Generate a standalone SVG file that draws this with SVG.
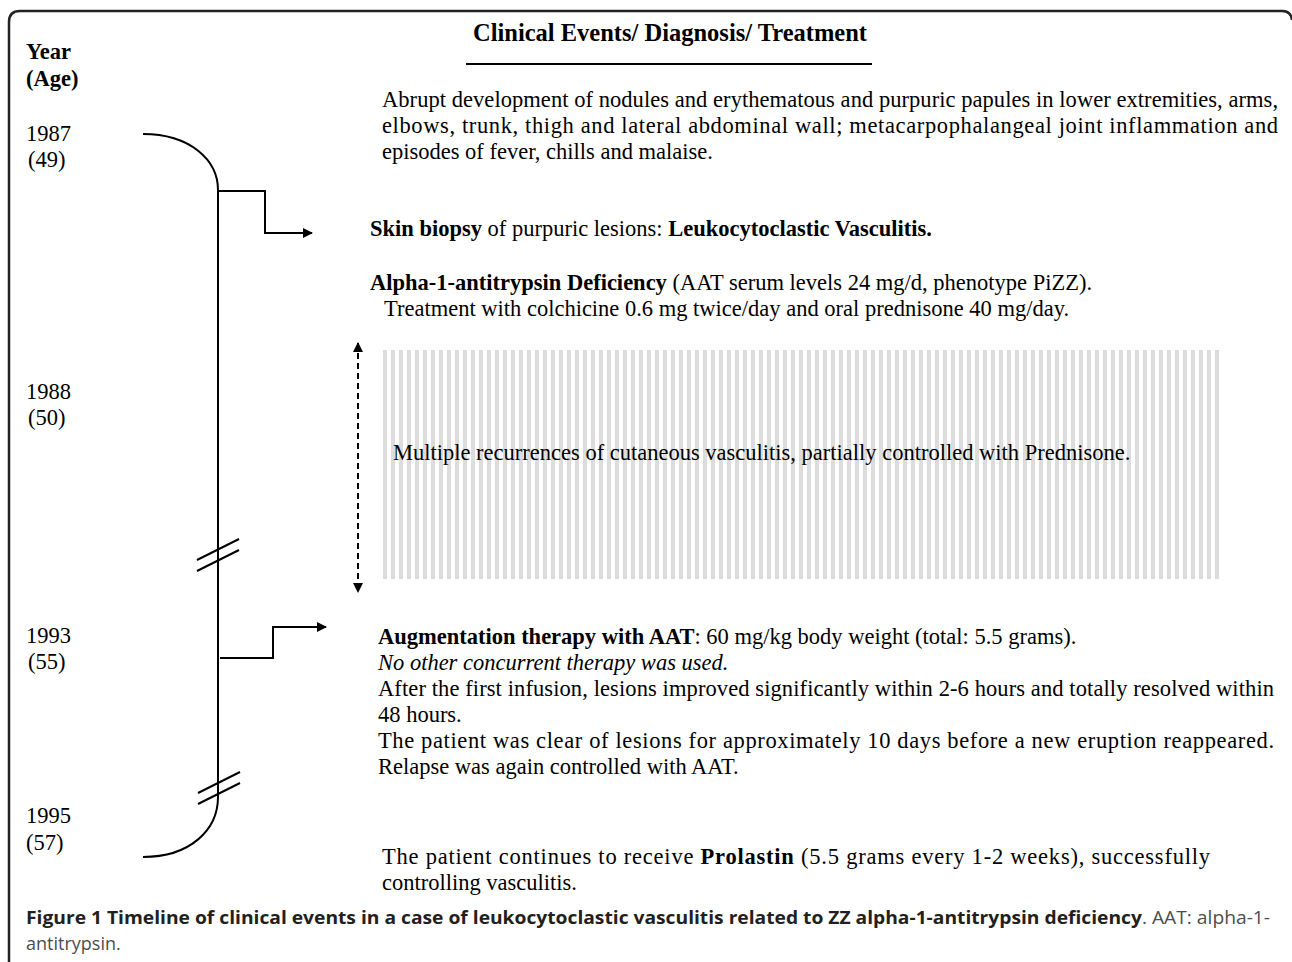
<svg xmlns="http://www.w3.org/2000/svg" width="1292" height="962" viewBox="0 0 1292 962">
<style>
.t{font-family:"Liberation Serif","Times New Roman",serif;font-size:22.5px;fill:#000}
.b{font-weight:bold}
.i{font-style:italic}
.title{font-size:24.5px}
.ln{fill:none;stroke:#000;stroke-width:2}
.cap{font-family:"Open Sans","Noto Sans",sans-serif;font-size:18px}
</style>
<defs>
<marker id="ah" viewBox="0 0 10 10" refX="9" refY="5" markerWidth="11" markerHeight="10" markerUnits="userSpaceOnUse" orient="auto-start-reverse">
<path d="M0,0 L10,5 L0,10 z" fill="#000"/>
</marker>
<pattern id="stripes" x="383" y="0" width="8" height="10" patternUnits="userSpaceOnUse">
<rect x="0" y="0" width="4" height="10" fill="#dcdcdc"/>
</pattern>
</defs>
<g id="frame">
<path d="M9 962 V22 Q9 11 20 11 H1282 Q1291 11 1292 20" fill="none" stroke="#222" stroke-width="2.5"/>
</g>
<g id="header">
<text class="t b" x="26" y="59">Year</text>
<text class="t b" x="26" y="86">(Age)</text>
<text class="t b title" x="670" y="41" text-anchor="middle">Clinical Events/ Diagnosis/ Treatment</text>
<line x1="466" y1="64" x2="872" y2="64" stroke="#000" stroke-width="2"/>
</g>
<g id="years">
<text class="t" x="26" y="141">1987</text>
<text class="t" x="28" y="167">(49)</text>
<text class="t" x="26" y="399">1988</text>
<text class="t" x="28" y="425">(50)</text>
<text class="t" x="26" y="643">1993</text>
<text class="t" x="28" y="669">(55)</text>
<text class="t" x="26" y="823">1995</text>
<text class="t" x="26" y="850">(57)</text>
</g>
<g id="connectors">
<path id="timeline" class="ln" d="M143 134 C190 134 218 160 218 190 V797 C218 830 190 857 143 857"/>
<path id="break1a" class="ln" d="M197 560 L239 539"/>
<path id="break1b" class="ln" d="M197 571 L239 550"/>
<path id="break2a" class="ln" d="M198 793 L240 772"/>
<path id="break2b" class="ln" d="M198 804 L240 783"/>
<path id="arrow1987" class="ln" d="M218 191 H265 V233 H312" marker-end="url(#ah)"/>
<path id="arrow1993" class="ln" d="M220 658 H273 V627 H326" marker-end="url(#ah)"/>
<line id="span1988" x1="358" y1="343" x2="358" y2="592" stroke="#000" stroke-width="2" stroke-dasharray="6 4" marker-start="url(#ah)" marker-end="url(#ah)"/>
</g>
<g id="event1987">
<text class="t" x="382" y="107" textLength="896" lengthAdjust="spacing">Abrupt development of nodules and erythematous and purpuric papules in lower extremities, arms,</text>
<text class="t" x="382" y="133" textLength="896" lengthAdjust="spacing">elbows, trunk, thigh and lateral abdominal wall; metacarpophalangeal joint inflammation and</text>
<text class="t" x="382" y="159">episodes of fever, chills and malaise.</text>
<text class="t" x="370" y="236"><tspan class="b">Skin biopsy</tspan> of purpuric lesions: <tspan class="b">Leukocytoclastic Vasculitis.</tspan></text>
<text class="t" x="370" y="290"><tspan class="b">Alpha-1-antitrypsin Deficiency</tspan> (AAT serum levels 24 mg/d, phenotype PiZZ).</text>
<text class="t" x="384" y="316">Treatment with colchicine 0.6 mg twice/day and oral prednisone 40 mg/day.</text>
</g>
<g id="event1988">
<rect x="383" y="350" width="836" height="229" fill="url(#stripes)"/>
<text class="t" x="393" y="460">Multiple recurrences of cutaneous vasculitis, partially controlled with Prednisone.</text>
</g>
<g id="event1993">
<text class="t" x="378" y="644"><tspan class="b">Augmentation therapy with AAT</tspan>: 60 mg/kg body weight (total: 5.5 grams).</text>
<text class="t i" x="378" y="670">No other concurrent therapy was used.</text>
<text class="t" x="378" y="696" textLength="896" lengthAdjust="spacing">After the first infusion, lesions improved significantly within 2-6 hours and totally resolved within</text>
<text class="t" x="378" y="722">48 hours.</text>
<text class="t" x="378" y="748" textLength="896" lengthAdjust="spacing">The patient was clear of lesions for approximately 10 days before a new eruption reappeared.</text>
<text class="t" x="378" y="774">Relapse was again controlled with AAT.</text>
</g>
<g id="event1995">
<text class="t" x="382" y="864" textLength="828" lengthAdjust="spacing">The patient continues to receive <tspan class="b">Prolastin</tspan> (5.5 grams every 1-2 weeks), successfully</text>
<text class="t" x="382" y="890">controlling vasculitis.</text>
</g>
<g id="caption">
<text class="cap" x="26" y="924" textLength="1244" lengthAdjust="spacingAndGlyphs"><tspan font-weight="bold" fill="#231f20">Figure 1 Timeline of clinical events in a case of leukocytoclastic vasculitis related to ZZ alpha-1-antitrypsin deficiency</tspan><tspan fill="#4d4d4d">. AAT: alpha-1-</tspan></text>
<text class="cap" x="26" y="950" fill="#4d4d4d">antitrypsin.</text>
</g>
</svg>
